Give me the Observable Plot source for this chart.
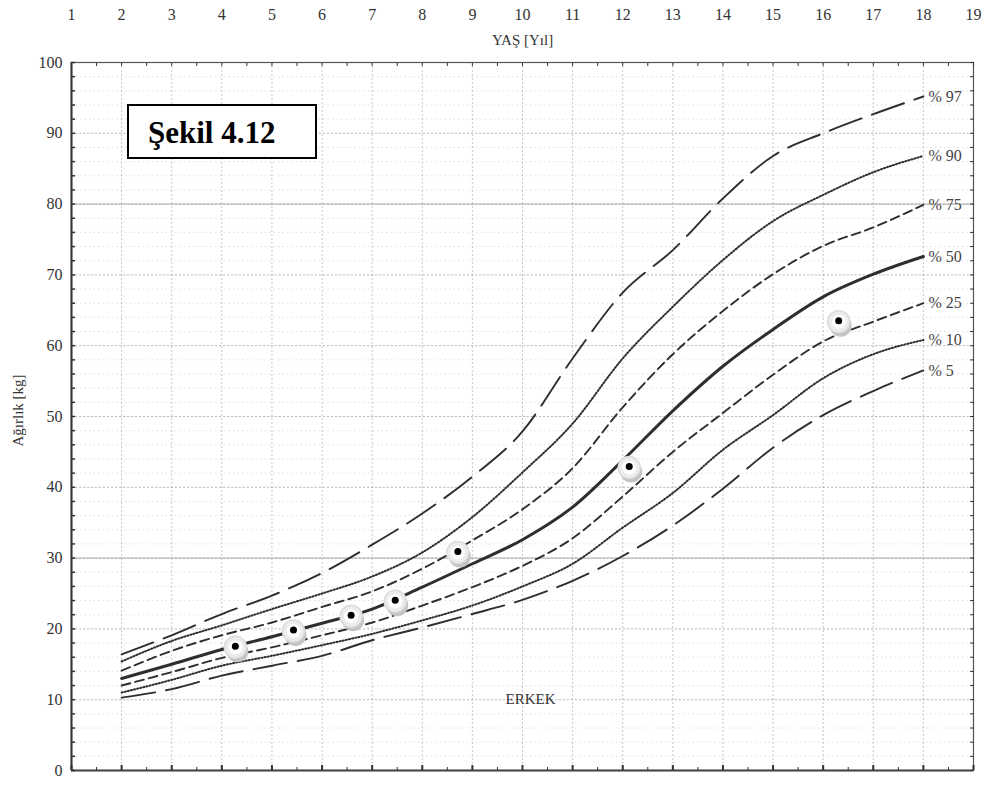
<!DOCTYPE html>
<html><head><meta charset="utf-8">
<script src="https://cdn.jsdelivr.net/npm/d3@7"></script>
<script src="https://cdn.jsdelivr.net/npm/@observablehq/plot@0.6"></script>
<style>
body{margin:0;background:#fff;}
#chart{position:relative;width:988px;height:785px;}
#chart svg{display:block;}
#box{position:absolute;left:127px;top:104px;width:167px;height:51px;border:2px solid #000;background:#fff;
 font-family:'Liberation Serif',serif;font-weight:bold;font-size:31px;line-height:53px;padding-left:19px;box-sizing:content-box;color:#000;white-space:nowrap;}
</style></head><body>
<div id="chart"></div>
<script>
// ---- data ----
const ages = [2,3,4,5,6,7,8,9,10,11,12,13,14,15,16,17,18];
const p97 = [16.4,19.1,22.1,24.7,27.9,31.9,36.3,41.5,47.9,58.2,67.5,73.5,80.8,86.8,90.0,92.7,95.2];
const p90 = [15.4,18.3,20.5,22.8,25.0,27.4,30.8,35.8,42.1,49.0,58.2,65.5,72.1,77.6,81.3,84.5,86.8];
const p75 = [14.1,16.9,19.1,20.9,23.1,25.3,28.5,32.5,36.9,42.7,51.3,58.8,64.9,70.1,74.1,76.7,79.9];
const p50 = [13.0,15.0,17.1,18.9,20.8,22.8,25.9,29.2,32.6,37.2,43.8,50.8,57.1,62.3,66.9,70.1,72.6];
const p25 = [12.0,13.9,15.9,17.4,19.1,20.9,23.3,25.9,28.9,32.8,38.7,45.0,50.5,55.9,60.6,63.4,66.0];
const p10 = [11.0,12.8,14.8,16.2,17.7,19.3,21.2,23.3,26.0,29.2,34.3,39.2,45.3,50.2,55.4,58.8,60.8];
const p5  = [10.3,11.5,13.4,14.8,16.2,18.4,20.2,22.1,24.1,26.8,30.3,34.6,39.8,45.6,50.2,53.6,56.5];
const percentiles = ["97","90","75","50","25","10","5"];
const measAge = [4.27,5.43,6.58,7.46,8.71,12.13,16.31];
const measKg  = [17.4,19.7,21.8,23.9,30.8,42.8,63.4];
const xTickLabels = [1,2,3,4,5,6,7,8,9,10,11,12,13,14,15,16,17,18,19];
const yTickLabels = [0,10,20,30,40,50,60,70,80,90,100];
const solidGridKg = [30,80];
const xLabel = "YAŞ [Yıl]";
const yLabel = "Ağırlık [kg]";
const groupLabel = "ERKEK";
const figureTitle = "Şekil 4.12";

// ---- build table ----
const seriesValues = {"97":p97,"90":p90,"75":p75,"50":p50,"25":p25,"10":p10,"5":p5};
const rows = percentiles.flatMap(p => ages.map((a,i) => ({p, age:a, kg:seriesValues[p][i]})));
const lastRows = percentiles.map(p => ({p, age:ages[ages.length-1], kg:seriesValues[p][ages.length-1]}));
const meas = measAge.map((a,i) => ({age:a, kg:measKg[i]}));

const lineStyle = {
  "97": {strokeWidth:1.9, strokeDasharray:"34,11"},
  "90": {strokeWidth:2, strokeDasharray:"1.2,2"},
  "75": {strokeWidth:1.9, strokeDasharray:"9,5"},
  "50": {strokeWidth:3},
  "25": {strokeWidth:1.9, strokeDasharray:"9,5"},
  "10": {strokeWidth:2, strokeDasharray:"1.2,2"},
  "5":  {strokeWidth:1.9, strokeDasharray:"34,11"}
};

const xDomain = [xTickLabels[0], xTickLabels[xTickLabels.length-1]];
const yDomain = [yTickLabels[0], yTickLabels[yTickLabels.length-1]];
const halfYears = d3.range(xDomain[0], xDomain[1] + 0.01, 0.5);
const minorKg = d3.range(yDomain[0], yDomain[1] + 0.01, 2);

const plot = Plot.plot({
  width: 988, height: 785,
  marginLeft: 71, marginRight: 15, marginTop: 62, marginBottom: 15,
  style: {fontFamily: "'Liberation Serif', serif", background: "#fff", color: "#333", overflow: "visible"},
  x: {domain: xDomain},
  y: {domain: yDomain},
  marks: [
    Plot.gridY({ticks: minorKg, stroke: "#bbb", strokeOpacity: 0.45, strokeDasharray: "1.5,3"}),
    Plot.gridY({ticks: yTickLabels, stroke: "#999", strokeOpacity: 0.6, strokeDasharray: "2,2"}),
    Plot.gridY({ticks: solidGridKg, stroke: "#aaa", strokeOpacity: 0.9}),
    Plot.gridX({ticks: xTickLabels, stroke: "#999", strokeOpacity: 0.55, strokeDasharray: "2,2"}),
    Plot.frame({stroke: "#555", strokeWidth: 1.2}),
    Plot.ruleX([xDomain[0]], {stroke: "#333", strokeWidth: 2}),
    Plot.ruleY([yDomain[0]], {stroke: "#444", strokeWidth: 1.8}),
    // inner ticks
    Plot.axisY({anchor: "left", ticks: minorKg, tickSize: -4, tickFormat: () => "", label: null, strokeWidth: 1.5}),
    Plot.axisY({anchor: "right", ticks: minorKg, tickSize: -4, tickFormat: () => "", label: null}),
    Plot.axisX({anchor: "top", ticks: halfYears, tickSize: -3, tickFormat: () => "", label: null}),
    Plot.axisX({anchor: "bottom", ticks: xTickLabels, tickSize: -5, tickFormat: () => "", label: null, strokeWidth: 2}),
    Plot.axisX({anchor: "bottom", ticks: halfYears, tickSize: -3, tickFormat: () => "", label: null}),
    // labels
    Plot.axisY({anchor: "left", ticks: yTickLabels, tickSize: 0, tickPadding: 9, fontSize: 16, label: null}),
    Plot.axisX({anchor: "top", ticks: xTickLabels, tickSize: 0, tickPadding: 43, fontSize: 16, label: null}),
    Plot.text([xLabel], {frameAnchor: "top", dy: -22, lineAnchor: "middle", fontSize: 15, fill: "#333"}),
    Plot.text([yLabel], {frameAnchor: "left", rotate: -90, dx: -53, dy: -6, textAnchor: "middle", fontSize: 15, fill: "#333"}),
    Plot.text([groupLabel], {frameAnchor: "bottom", dy: -67, dx: 8, fontSize: 15, fill: "#333"}),
    // percentile curves
    ...percentiles.map(p => Plot.line(rows.filter(d => d.p === p), {
      x: "age", y: "kg", stroke: "#2e2e2e", curve: "monotone-x", ...lineStyle[p]
    })),
    Plot.text(lastRows, {x: "age", y: "kg", text: d => "% " + d.p, dx: 5, textAnchor: "start", fontSize: 16, fill: "#444"}),
    // measurement markers
    Plot.dot(meas, {x: "age", y: "kg", r: 11, fill: "#c4c4c4", dx: 2, dy: 4}),
    Plot.dot(meas, {x: "age", y: "kg", r: 11, fill: "#ececec", stroke: "#dcdcdc"}),
    Plot.dot(meas, {x: "age", y: "kg", r: 7, fill: "#fff"}),
    Plot.dot(meas, {x: "age", y: "kg", r: 3.5, fill: "#000", dy: -1})
  ]
});
const chart = document.getElementById("chart");
chart.appendChild(plot);
const box = document.createElement("div");
box.id = "box";
box.textContent = figureTitle;
chart.appendChild(box);
</script>
</body></html>
